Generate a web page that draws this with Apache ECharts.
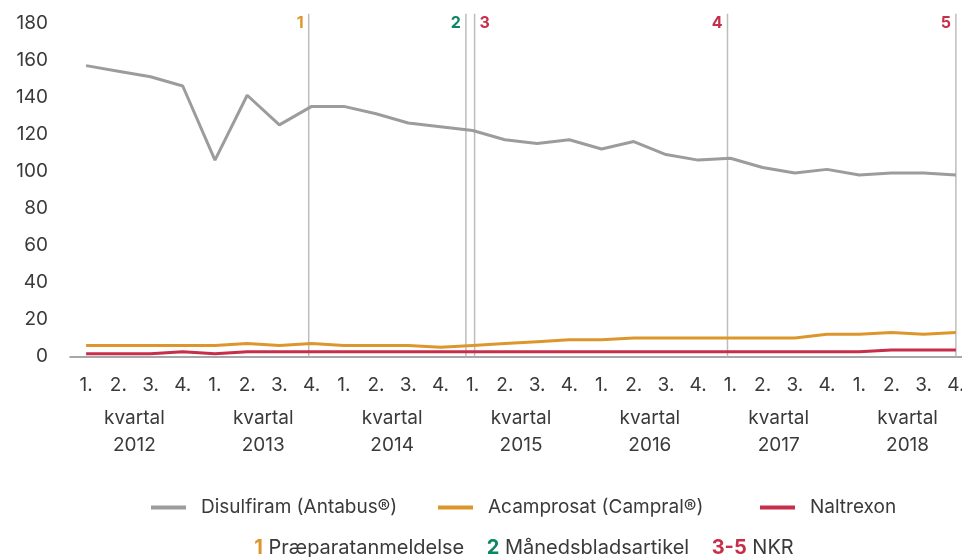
<!DOCTYPE html>
<html lang="no">
<head>
    <meta charset="UTF-8">
    <title>Legemidler mot alkoholavhengighet</title>
    <script src="https://cdn.jsdelivr.net/npm/echarts@6/dist/echarts.min.js"></script>
    <style>
        html, body { margin: 0; padding: 0; background: #fff; }
    </style>
</head>
<body>
<!-- chart container -->
<div id="chart" style="width: 962px;height: 557px;"></div>
<script>
    // x axis: quarters per year
    const years = ['2012', '2013', '2014', '2015', '2016', '2017', '2018'];
    const quarters = ['1.', '2.', '3.', '4.'];
    const yTicks = [0, 20, 40, 60, 80, 100, 120, 140, 160, 180];

    // series values, one per quarter (2012 Q1 .. 2018 Q4)
    const disulfiram = [157, 154, 151, 146, 106, 141, 125, 135, 135, 131, 126, 124,
                        122, 117, 115, 117, 112, 116, 109, 106, 107, 102, 99, 101,
                        98, 99, 99, 98];
    const acamprosat = [6, 6, 6, 6, 6, 7, 6, 7, 6, 6, 6, 5,
                        6, 7, 8, 9, 9, 10, 10, 10, 10, 10, 10, 12,
                        12, 13, 12, 13];
    const naltrexon  = [1.5, 1.5, 1.5, 2.5, 1.5, 2.5, 2.5, 2.5, 2.5, 2.5, 2.5, 2.5,
                        2.5, 2.5, 2.5, 2.5, 2.5, 2.5, 2.5, 2.5, 2.5, 2.5, 2.5, 2.5,
                        2.5, 3.5, 3.5, 3.5];
    const seriesNames = ['Disulfiram (Antabus®)', 'Acamprosat (Campral®)', 'Naltrexon'];

    // event markers, position in quarter index (0 = 1. kvartal 2012)
    const markerPos = [6.91, 11.79, 12.06, 19.91, 27];
    const markerLabels = ['1', '2', '3', '4', '5'];
    const markerTop = 185;

    const FONT = 'Inter, "Liberation Sans", sans-serif';
    const TEXT = '#3a3a3a';
    const GREY = '#9c9c9c', ORANGE = '#dd962c', RED = '#c62e49', GREEN = '#0b8763';
    const markerColors = [ORANGE, GREEN, RED, RED, RED];

    let categories = [];
    years.forEach(function (y) {
        quarters.forEach(function (q) { categories.push(q + ' ' + y); });
    });

    let myChart = echarts.init(document.getElementById('chart'));

    // one legend block per series so each sits where it does in the original
    let legendLeft = [151, 438, 760];
    let legends = seriesNames.map(function (name, i) {
        return {
            data: [name],
            left: legendLeft[i],
            top: 498,
            padding: 0,
            icon: 'rect',
            itemWidth: 35,
            itemHeight: 4,
            textStyle: { color: TEXT, fontSize: 19, fontFamily: FONT, padding: [0, 0, 0, 10] }
        };
    });

    let option = {
        animation: false,
        textStyle: { fontFamily: FONT },
        grid: { left: 70, top: 23, width: 902, height: 333.5, containLabel: false, outerBoundsMode: 'none' },
        legend: legends,
        xAxis: [
            {
                type: 'category',
                data: categories,
                boundaryGap: true,
                axisLine: { lineStyle: { color: '#8a8a8a', width: 1.5 } },
                axisTick: { interval: 3, length: 7, lineStyle: { color: '#8a8a8a', width: 1.5 } },
                axisLabel: {
                    interval: 0, margin: 19, color: TEXT, fontSize: 19, fontFamily: FONT,
                    formatter: function (v) { return v.split(' ')[0]; }
                },
                splitLine: { show: false }
            },
            {
                type: 'category',
                data: years,
                position: 'bottom',
                axisLine: { show: false },
                axisTick: { show: false },
                axisLabel: {
                    margin: 48, color: TEXT, fontSize: 19, lineHeight: 27, fontFamily: FONT,
                    formatter: function (v) { return 'kvartal\n' + v; }
                },
                splitLine: { show: false }
            },
            {
                // hidden value axis used to place the event markers
                type: 'value',
                show: false,
                min: -0.5,
                max: 27.5
            }
        ],
        yAxis: {
            type: 'value',
            min: yTicks[0],
            max: yTicks[yTicks.length - 1],
            interval: 20,
            axisLine: { show: false },
            axisTick: { show: false },
            splitLine: { show: false },
            axisLabel: { margin: 22, color: TEXT, fontSize: 19, fontFamily: FONT }
        },
        series: [
            {
                type: 'custom',
                name: 'markers',
                xAxisIndex: 2,
                yAxisIndex: 0,
                z: 1,
                silent: true,
                data: markerPos.map(function (p) { return [p, markerTop]; }),
                renderItem: function (params, api) {
                    let i = params.dataIndex;
                    let top = api.coord([api.value(0), api.value(1)]);
                    let bottom = api.coord([api.value(0), 0]);
                    let right = i === 2;
                    return {
                        type: 'group',
                        children: [
                            {
                                type: 'line',
                                shape: { x1: top[0], y1: top[1], x2: bottom[0], y2: bottom[1] },
                                style: { stroke: '#bdbdbd', lineWidth: 1.5 }
                            },
                            {
                                type: 'text',
                                style: {
                                    text: markerLabels[i],
                                    x: top[0] + (right ? 5 : -5),
                                    y: top[1] + 9,
                                    align: right ? 'left' : 'right',
                                    verticalAlign: 'middle',
                                    fill: markerColors[i],
                                    font: 'bold 16px ' + FONT
                                }
                            }
                        ]
                    };
                }
            },
            {
                name: seriesNames[0],
                type: 'line',
                data: disulfiram,
                symbol: 'none',
                z: 3,
                itemStyle: { color: GREY },
                lineStyle: { color: GREY, width: 3 }
            },
            {
                name: seriesNames[1],
                type: 'line',
                data: acamprosat,
                symbol: 'none',
                z: 3,
                itemStyle: { color: ORANGE },
                lineStyle: { color: ORANGE, width: 3 }
            },
            {
                name: seriesNames[2],
                type: 'line',
                data: naltrexon,
                symbol: 'none',
                z: 3,
                itemStyle: { color: RED },
                lineStyle: { color: RED, width: 3 }
            }
        ],
        graphic: [
            {
                type: 'text',
                x: 524,
                y: 548,
                style: {
                    text: '{a|1} Præparatanmeldelse    {b|2} Månedsbladsartikel    {c|3-5} NKR',
                    fill: TEXT,
                    font: '20px ' + FONT,
                    align: 'center',
                    verticalAlign: 'middle',
                    rich: {
                        a: { fill: ORANGE, fontWeight: 'bold', fontSize: 20, fontFamily: FONT },
                        b: { fill: GREEN, fontWeight: 'bold', fontSize: 20, fontFamily: FONT },
                        c: { fill: RED, fontWeight: 'bold', fontSize: 20, fontFamily: FONT }
                    }
                }
            }
        ]
    };

    myChart.setOption(option);
</script>
</body>
</html>
